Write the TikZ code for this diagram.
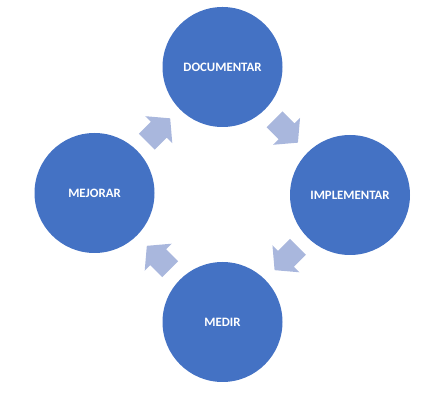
\documentclass[tikz,border=0pt]{standalone}
\usepackage{fontspec}
\setmainfont{Carlito}
\usetikzlibrary{calc}
\definecolor{circblue}{RGB}{68,114,196}
\definecolor{arrblue}{RGB}{169,183,221}
\tikzset{
  stagecircle/.style={circle, fill=circblue, draw=none, minimum size=120pt, inner sep=0pt,
    text=white, font=\bfseries\fontsize{12.8}{15}\selectfont},
  blockarrow/.style={fill=arrblue, draw=none}
}
\newcommand{\blockarr}[2]{%
  \fill[blockarrow, shift={#1}, rotate=#2]
    (-16.5,-11.3) -- (0.5,-11.3) -- (0.5,-19) -- (16.5,0) -- (0.5,19) -- (0.5,11.3) -- (-16.5,11.3) -- cycle;}
\begin{document}
\begin{tikzpicture}[x=1pt,y=1pt]
\useasboundingbox (0,0) rectangle (437,401);
\node[stagecircle] (doc) at (222.5,334) {DOCUMENTAR};
\node[stagecircle] (imp) at (350,206) {IMPLEMENTAR};
\node[stagecircle] (med) at (222.5,79) {MEDIR};
\node[stagecircle] (mej) at (94.5,208) {MEJORAR};
\blockarr{($(doc)!0.5!(imp)$)}{-45}
\blockarr{($(imp)!0.5!(med)$)}{-135}
\blockarr{($(med)!0.5!(mej)$)}{135}
\blockarr{($(mej)!0.5!(doc)$)}{45}
\end{tikzpicture}
\end{document}
